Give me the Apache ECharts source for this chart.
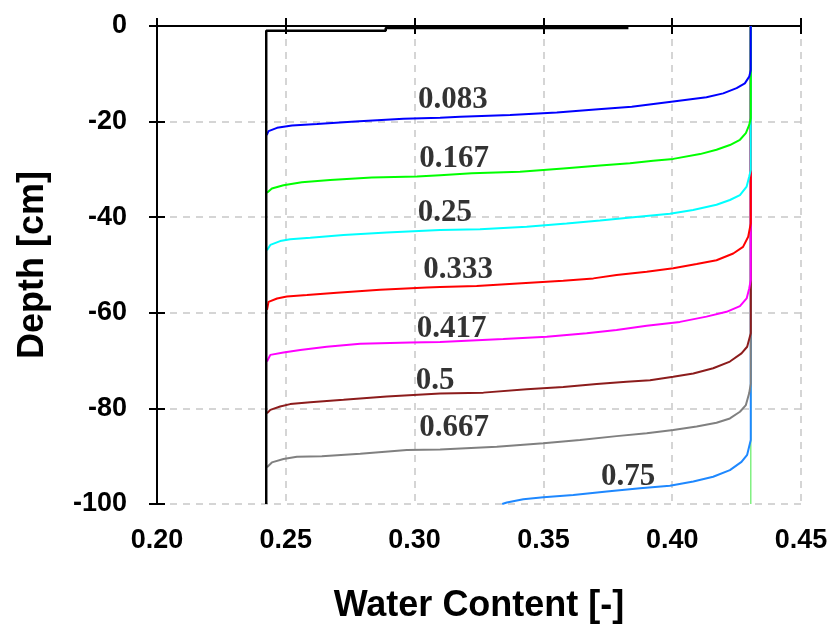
<!DOCTYPE html>
<html>
<head>
<meta charset="utf-8">
<script src="https://cdn.jsdelivr.net/npm/echarts@6/dist/echarts.min.js"></script>
<style>
  html, body { margin: 0; padding: 0; background: #ffffff; }
  #chart { width: 832px; height: 626px; }
</style>
</head>
<body>
<div id="chart"></div>
<script>
// Soil water content profiles: [water content, depth in cm]
const initialProfile = [[0.2424, -100], [0.2424, -1.0], [0.2888, -1.0], [0.2888, -0.4], [0.3830, -0.4]];

const profile083 = [[0.4305, 0], [0.4305, -9.2], [0.4299, -10.6], [0.4282, -12.0], [0.4250, -13.0], [0.4198, -14.1],
  [0.4133, -14.9], [0.4004, -15.8], [0.3843, -16.9], [0.3713, -17.4], [0.3552, -18.1], [0.3371, -18.6],
  [0.3177, -19.0], [0.3099, -19.2], [0.2957, -19.4], [0.2769, -20.0], [0.2621, -20.5], [0.2524, -20.8],
  [0.2466, -21.3], [0.2433, -22.0], [0.2426, -22.8]];

const profile167 = [[0.4305, 0], [0.4305, -19.3], [0.4299, -20.7], [0.4286, -22.4], [0.4263, -23.8], [0.4224, -24.9],
  [0.4172, -25.9], [0.4108, -26.8], [0.4004, -27.8], [0.3926, -28.2], [0.3836, -28.7], [0.3720, -29.2],
  [0.3577, -29.8], [0.3409, -30.5], [0.3222, -30.8], [0.3099, -31.2], [0.3009, -31.5], [0.2834, -31.7],
  [0.2672, -32.2], [0.2562, -32.7], [0.2491, -33.3], [0.2446, -34.0], [0.2427, -34.9]];

const profile250 = [[0.4305, 0], [0.4305, -30.1], [0.4299, -31.5], [0.4289, -33.6], [0.4263, -35.4], [0.4224, -36.4],
  [0.4172, -37.4], [0.4081, -38.5], [0.3991, -39.3], [0.3849, -40.0], [0.3720, -40.7], [0.3590, -41.3],
  [0.3435, -42.0], [0.3254, -42.5], [0.3099, -42.7], [0.2892, -43.2], [0.2724, -43.7], [0.2595, -44.3],
  [0.2517, -44.6], [0.2478, -45.0], [0.2440, -45.8], [0.2427, -46.9]];

const profile333 = [[0.4305, 0], [0.4305, -41.3], [0.4295, -44.1], [0.4275, -46.2], [0.4237, -47.6], [0.4172, -49.0],
  [0.4095, -49.8], [0.4004, -50.7], [0.3901, -51.4], [0.3784, -52.1], [0.3694, -52.8], [0.3577, -53.3],
  [0.3416, -53.8], [0.3241, -54.4], [0.3099, -54.6], [0.3047, -54.7], [0.2866, -55.2], [0.2698, -55.8],
  [0.2582, -56.3], [0.2504, -56.6], [0.2466, -57.0], [0.2433, -57.7], [0.2427, -59.4]];

const profile417 = [[0.4305, 0], [0.4305, -53.1], [0.4299, -54.9], [0.4289, -57.0], [0.4263, -58.6], [0.4211, -59.8],
  [0.4133, -60.8], [0.4030, -61.9], [0.3901, -62.7], [0.3784, -63.6], [0.3668, -64.3], [0.3513, -65.0],
  [0.3344, -65.5], [0.3099, -66.1], [0.2983, -66.2], [0.2789, -66.5], [0.2659, -67.1], [0.2556, -67.8],
  [0.2491, -68.3], [0.2440, -68.8], [0.2427, -70.2]];

const profile500 = [[0.4305, 0], [0.4305, -64.3], [0.4291, -67.1], [0.4269, -68.5], [0.4224, -70.2], [0.4159, -71.6],
  [0.4082, -72.7], [0.4004, -73.4], [0.3914, -74.1], [0.3823, -74.4], [0.3707, -74.9], [0.3577, -75.5],
  [0.3435, -76.0], [0.3267, -76.7], [0.3099, -76.9], [0.2892, -77.5], [0.2724, -78.2], [0.2595, -78.7],
  [0.2517, -79.1], [0.2478, -79.6], [0.2440, -80.3], [0.2427, -81.0]];

const profile667 = [[0.4305, 0], [0.4305, -74.8], [0.4299, -76.8], [0.4286, -79.3], [0.4263, -80.7], [0.4224, -82.1],
  [0.4172, -83.0], [0.4095, -83.8], [0.4004, -84.5], [0.3901, -85.2], [0.3784, -85.8], [0.3642, -86.6],
  [0.3500, -87.3], [0.3319, -88.0], [0.3099, -88.6], [0.2970, -88.7], [0.2789, -89.5], [0.2640, -90.0],
  [0.2543, -90.1], [0.2491, -90.6], [0.2446, -91.3], [0.2427, -92.3]];

const profile750 = [[0.4305, 0], [0.4305, -86.6], [0.4291, -89.7], [0.4269, -91.2], [0.4224, -92.9], [0.4159, -94.3],
  [0.4082, -95.3], [0.3991, -96.2], [0.3875, -96.7], [0.3746, -97.4], [0.3616, -98.1], [0.3500, -98.6],
  [0.3422, -99.0], [0.3358, -99.7], [0.3340, -100]];

const finalProfile = [[0.4305, 0], [0.4305, -100]];

// Time labels (days) and where each one sits on the plot
const timeLabels = ['0.083', '0.167', '0.25', '0.333', '0.417', '0.5', '0.667', '0.75'];
const labelAnchors = [[0.3149, -15.4], [0.3153, -27.9], [0.3118, -39.2], [0.3169, -51.0],
  [0.3144, -63.3], [0.3080, -74.2], [0.3153, -84.0], [0.3829, -94.3]];

const timedProfiles = [profile083, profile167, profile250, profile333, profile417, profile500, profile667, profile750];
const lineColors = ['#0000ff', '#00ff00', '#00ffff', '#ff0000', '#ff00ff', '#8c1c1c', '#808080', '#1e88ff'];

const chart = echarts.init(document.getElementById('chart'), null, { renderer: 'canvas' });

const tickFont = { fontFamily: 'Liberation Sans', fontWeight: 'bold', fontSize: 27, color: '#000' };
const titleFont = { fontFamily: 'Liberation Sans', fontWeight: 'bold', fontSize: 36, color: '#000' };
const gridLine = { show: true, lineStyle: { color: '#c8c8c8', width: 1.5, type: [7, 6] } };
const blackLine = { show: true, lineStyle: { color: '#000', width: 2 } };

function xAxisDef(gridIndex, position, opts) {
  return Object.assign({
    type: 'value', gridIndex, position, min: 0.2, max: 0.45, interval: 0.05,
    axisLine: { show: false }, axisLabel: { show: false }, splitLine: { show: false },
    axisTick: { show: true, length: 8, lineStyle: { color: '#000', width: 2 } }
  }, opts);
}
function yAxisDef(gridIndex, opts) {
  return Object.assign({
    type: 'value', gridIndex, position: 'left', min: -100, max: 0, interval: 20,
    axisLine: { show: false }, axisLabel: { show: false }, splitLine: { show: false },
    axisTick: { show: true, length: 8, lineStyle: { color: '#000', width: 2 } }
  }, opts);
}
const insideTick = { show: true, inside: true, length: 8, lineStyle: { color: '#000', width: 2 } };

const series = [];
timedProfiles.forEach((p, i) => {
  series.push({
    type: 'line', xAxisIndex: 0, yAxisIndex: 0, data: p,
    symbol: 'none', lineStyle: { color: lineColors[i], width: 2 },
    z: 30 - i, animation: false
  });
});
series.push({
  type: 'line', xAxisIndex: 0, yAxisIndex: 0, data: finalProfile,
  symbol: 'none', lineStyle: { color: '#80f080', width: 1.5 }, z: 10, animation: false
});
series.push({
  type: 'line', xAxisIndex: 0, yAxisIndex: 0, data: initialProfile,
  symbol: 'none', lineStyle: { color: '#000', width: 2.5 }, z: 40, animation: false
});
series.push({
  type: 'scatter', xAxisIndex: 0, yAxisIndex: 0,
  data: labelAnchors.map((p, i) => ({ value: p, name: timeLabels[i] })),
  symbolSize: 1, itemStyle: { color: 'rgba(0,0,0,0)' }, z: 50, animation: false,
  label: {
    show: true, position: 'inside', formatter: d => d.name,
    fontFamily: 'Liberation Serif', fontWeight: 'bold', fontSize: 31, color: '#000'
  }
});

const plotRect = { left: 157, right: 31, top: 26, bottom: 122, outerBoundsMode: 'none', containLabel: false };

chart.setOption({
  backgroundColor: '#ffffff',
  animation: false,
  grid: [Object.assign({}, plotRect), Object.assign({}, plotRect)],
  xAxis: [
    xAxisDef(0, 'bottom', {
      axisLine: blackLine, splitLine: gridLine,
      axisLabel: Object.assign({ show: true, margin: 23, formatter: v => v.toFixed(2) }, tickFont),
      name: 'Water Content [-]', nameLocation: 'middle', nameGap: 84,
      nameTextStyle: titleFont
    }),
    xAxisDef(0, 'top', { axisLine: blackLine }),
    xAxisDef(1, 'bottom', { axisTick: insideTick }),
    xAxisDef(1, 'top', { axisTick: insideTick })
  ],
  yAxis: [
    yAxisDef(0, {
      axisLine: blackLine, splitLine: gridLine,
      axisLabel: Object.assign({ show: true, margin: 30, formatter: v => String(v) }, tickFont),
      name: 'Depth [cm]', nameLocation: 'middle', nameGap: 106, nameRotate: 90,
      nameTextStyle: titleFont
    }),
    yAxisDef(1, { axisTick: insideTick })
  ],
  series
});
</script>
</body>
</html>
